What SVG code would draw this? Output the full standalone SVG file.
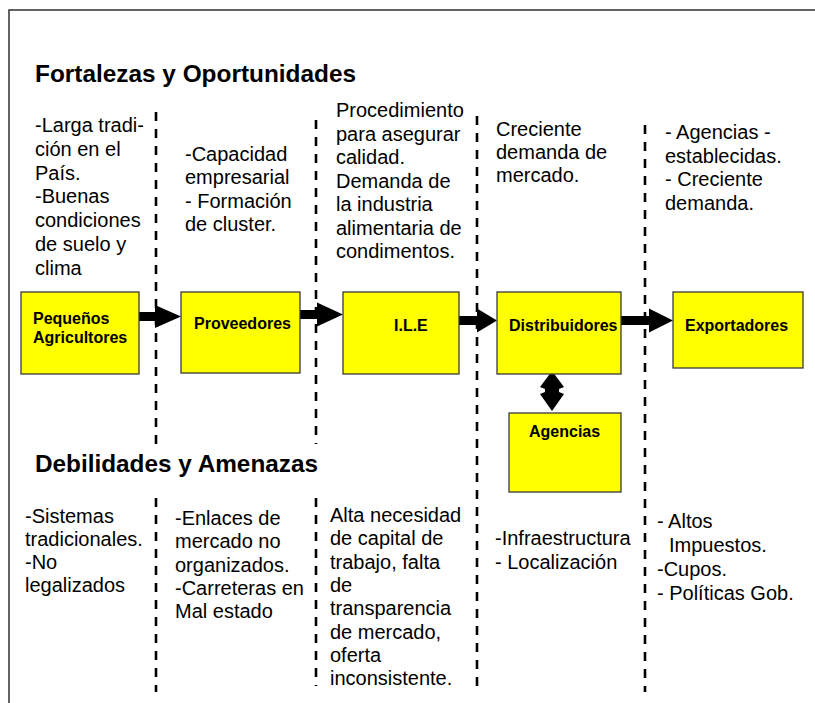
<svg xmlns="http://www.w3.org/2000/svg" width="815" height="703" viewBox="0 0 815 703">
<style>
.frame{fill:none;stroke:#3c3c3c;stroke-width:1.6}
.box{fill:#ffff00;stroke:#3a3a3a;stroke-width:1.3}
.lbl{font-family:"Liberation Sans",Arial,sans-serif;font-weight:bold;font-size:16px;fill:#000}
.hdr{font-family:"Liberation Sans",Arial,sans-serif;font-weight:bold;font-size:24px;fill:#000}
.txt{font-family:"Liberation Sans",Arial,sans-serif;font-size:20px;fill:#000}
.dash{stroke:#000;stroke-width:2.6;stroke-dasharray:9 8;fill:none}
.arr{fill:#000;stroke:none}
</style>
<rect width="815" height="703" fill="#ffffff"/>
<rect class="frame" x="9" y="10" width="830" height="720"/>

<g id="dividers">
<line class="dash" x1="156" y1="112" x2="156" y2="444"/>
<line class="dash" x1="156" y1="498" x2="156" y2="692"/>
<line class="dash" x1="316" y1="120" x2="316" y2="444"/>
<line class="dash" x1="316" y1="498" x2="316" y2="686"/>
<line class="dash" x1="477" y1="116" x2="477" y2="686"/>
<line class="dash" x1="645" y1="125" x2="645" y2="692"/>
</g>

<g id="titles">
<text class="hdr" x="35" y="81.5" textLength="321" lengthAdjust="spacingAndGlyphs">Fortalezas y Oportunidades</text>
<text class="hdr" x="35" y="471.5" textLength="283" lengthAdjust="spacingAndGlyphs">Debilidades y Amenazas</text>
</g>

<g id="strengths">
<text class="txt" x="35" y="132"><tspan x="35">-Larga tradi-</tspan><tspan x="35" dy="23.8">ción en el</tspan><tspan x="35" dy="23.8">País.</tspan><tspan x="35" dy="23.8">-Buenas</tspan><tspan x="35" dy="23.8">condiciones</tspan><tspan x="35" dy="23.8">de suelo y</tspan><tspan x="35" dy="23.8">clima</tspan></text>
<text class="txt" x="185" y="161"><tspan x="185">-Capacidad</tspan><tspan x="185" dy="23.3">empresarial</tspan><tspan x="185" dy="23.3">- Formación</tspan><tspan x="185" dy="23.3">de cluster.</tspan></text>
<text class="txt" x="336" y="117"><tspan x="336">Procedimiento</tspan><tspan x="336" dy="23.5">para asegurar</tspan><tspan x="336" dy="23.5">calidad.</tspan><tspan x="336" dy="23.5">Demanda de</tspan><tspan x="336" dy="23.5">la industria</tspan><tspan x="336" dy="23.5">alimentaria de</tspan><tspan x="336" dy="23.5">condimentos.</tspan></text>
<text class="txt" x="496" y="136"><tspan x="496">Creciente</tspan><tspan x="496" dy="23">demanda de</tspan><tspan x="496" dy="23">mercado.</tspan></text>
<text class="txt" x="665" y="139"><tspan x="665">- Agencias -</tspan><tspan x="665" dy="23.5">establecidas.</tspan><tspan x="665" dy="23.5">- Creciente</tspan><tspan x="665" dy="23.5">demanda.</tspan></text>
</g>

<g id="weaknesses">
<text class="txt" x="25" y="523"><tspan x="25">-Sistemas</tspan><tspan x="25" dy="23">tradicionales.</tspan><tspan x="25" dy="23">-No</tspan><tspan x="25" dy="23">legalizados</tspan></text>
<text class="txt" x="175" y="525"><tspan x="175">-Enlaces de</tspan><tspan x="175" dy="23.3">mercado no</tspan><tspan x="175" dy="23.3">organizados.</tspan><tspan x="175" dy="23.3">-Carreteras en</tspan><tspan x="175" dy="23.3">Mal estado</tspan></text>
<text class="txt" x="330" y="522"><tspan x="330">Alta necesidad</tspan><tspan x="330" dy="23.3">de capital de</tspan><tspan x="330" dy="23.3">trabajo, falta</tspan><tspan x="330" dy="23.3">de</tspan><tspan x="330" dy="23.3">transparencia</tspan><tspan x="330" dy="23.3">de mercado,</tspan><tspan x="330" dy="23.3">oferta</tspan><tspan x="330" dy="23.3">inconsistente.</tspan></text>
<text class="txt" x="495" y="545"><tspan x="495">-Infraestructura</tspan><tspan x="495" dy="24">- Localización</tspan></text>
<text class="txt" x="657" y="528"><tspan x="657">- Altos</tspan><tspan x="669" dy="24">Impuestos.</tspan><tspan x="657" dy="24">-Cupos.</tspan><tspan x="657" dy="24">- Políticas Gob.</tspan></text>
</g>

<g id="connectors">
<polygon class="arr" points="139,312 155,312 155,305 181,316.5 155,328 155,321 139,321"/>
<polygon class="arr" points="300,310 317,310 317,302.5 343,314.5 317,326.5 317,319 300,319"/>
<polygon class="arr" points="459,316 477,316 477,308.5 497,320.5 477,332.5 477,325 459,325"/>
<polygon class="arr" points="621,316 649,316 649,308.5 673,320.5 649,332.5 649,325 621,325"/>
<polygon class="arr" points="552,371 564,387 559,389 559,392 564,394 552,411 540,394 545,392 545,389 540,387"/>
</g>

<g id="node-pequenos">
<rect class="box" x="21" y="292" width="118" height="82"/>
<text class="lbl" x="33" y="323.5">Pequeños</text>
<text class="lbl" x="33" y="342.5">Agricultores</text>
</g>
<g id="node-proveedores">
<rect class="box" x="181" y="292" width="119" height="81"/>
<text class="lbl" x="194" y="328.5">Proveedores</text>
</g>
<g id="node-ile">
<rect class="box" x="343" y="292" width="116" height="82"/>
<text class="lbl" x="394" y="331">I.L.E</text>
</g>
<g id="node-distribuidores">
<rect class="box" x="497" y="292" width="124" height="82"/>
<text class="lbl" x="509" y="331">Distribuidores</text>
</g>
<g id="node-exportadores">
<rect class="box" x="673" y="292" width="130" height="76"/>
<text class="lbl" x="685" y="331">Exportadores</text>
</g>
<g id="node-agencias">
<rect class="box" x="509" y="413" width="112" height="79"/>
<text class="lbl" x="529" y="436.5">Agencias</text>
</g>
</svg>
